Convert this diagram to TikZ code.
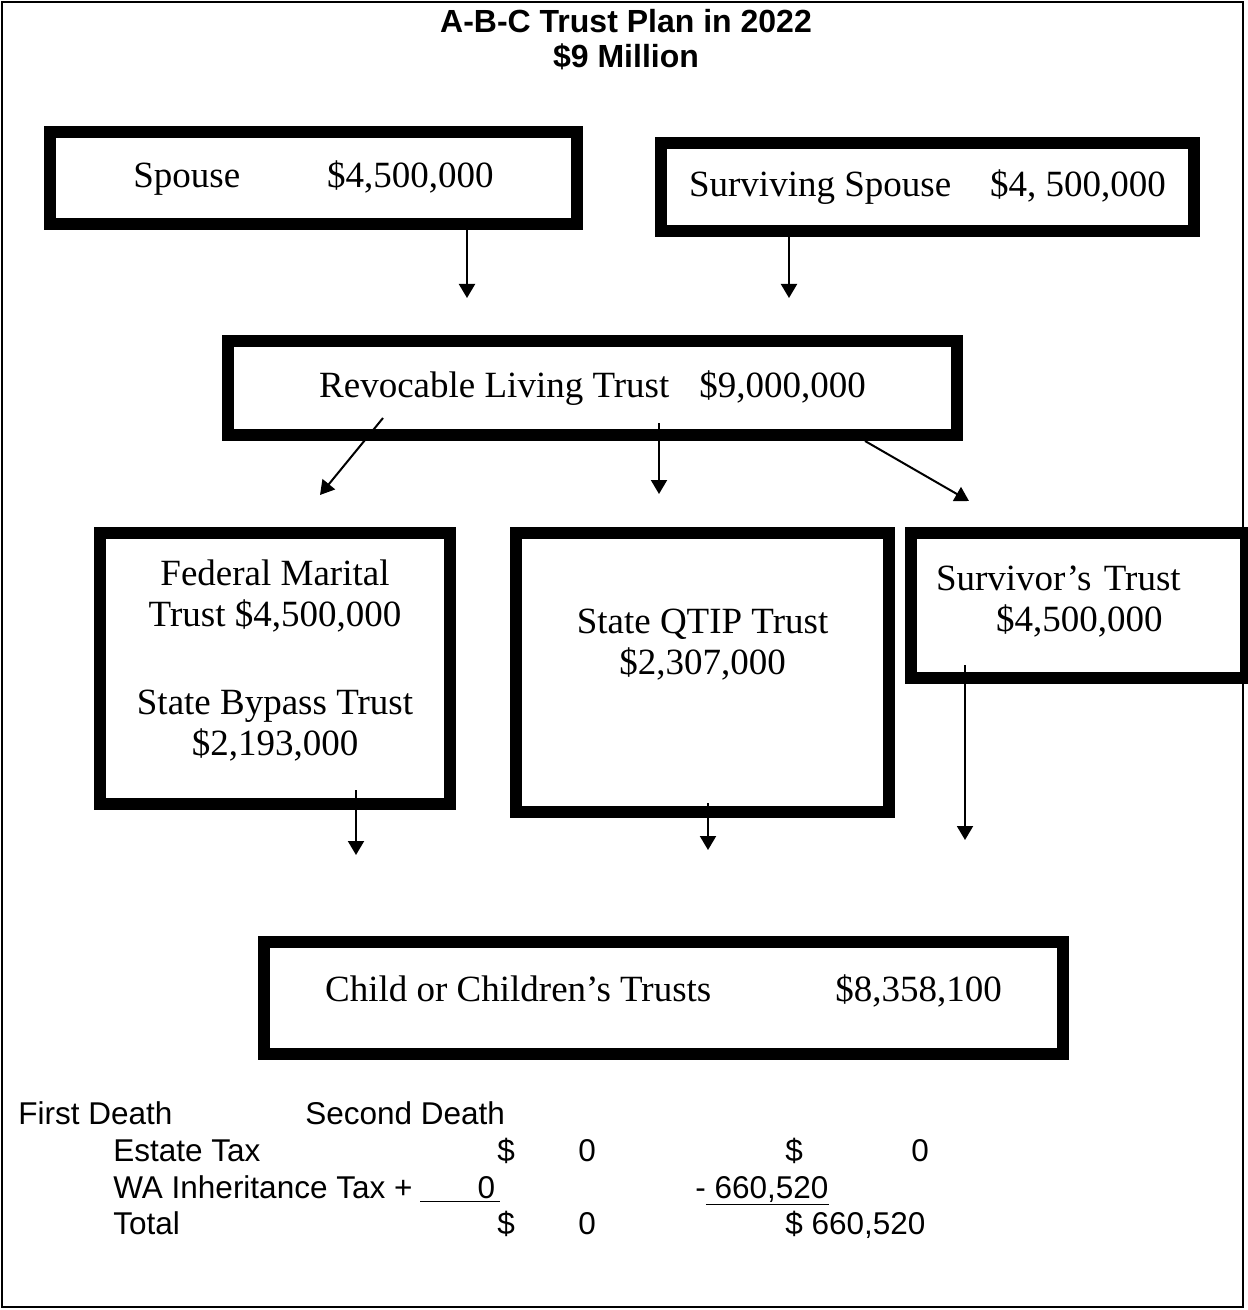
\documentclass[tikz,border=0pt]{standalone}
\usepackage{fontspec}
\setmainfont{Liberation Serif}
\setsansfont{Liberation Sans}
\usepackage{tikz}
\usetikzlibrary{arrows.meta,calc,positioning}

\begin{document}
\begin{tikzpicture}[
  x=0.5pt, y=-0.5pt,
  mybox/.style={
    draw,
    line width=6pt,
    inner sep=0pt,
    align=center,
    font=\fontsize{18.5}{20.5}\selectfont
    },
  myarrow/.style={
    line width=1pt,
    -{Triangle[length=7pt,width=8pt]}
    },
  mytab/.style={
    anchor=base west,
    inner sep=0pt,
    font=\sffamily\fontsize{15.75}{18}\selectfont
    }
]
\useasboundingbox (0,0) rectangle (1247,1310);
\draw[line width=1.25pt] (2,2) rectangle (1243,1307);

\node[font=\sffamily\bfseries\fontsize{16}{17.5}\selectfont, align=center,
  anchor=north, inner sep=0pt]
  (title) at (626,9)
  {A-B-C Trust Plan in 2022\\\$9 Million};

\node[mybox, minimum width=263.5pt, minimum height=46pt]
  (spouse) at (313.5,178)
  {Spouse\hspace{43.5pt}\$4,500,000};
\node[mybox, minimum width=266.5pt, minimum height=44pt]
  (survspouse) at (927.5,187)
  {Surviving Spouse\hspace{19.5pt}\$4, 500,000};
\node[mybox, minimum width=364.5pt, minimum height=47pt]
  (rlt) at (592.5,388)
  {Revocable Living Trust\hspace{15pt}\$9,000,000};

\node[mybox, minimum width=175pt, minimum height=135.5pt, text depth=11pt]
  (federal) at (275,668.5)
  {Federal Marital\\Trust \$4,500,000\\[23.5pt]State Bypass Trust\\\$2,193,000};
\node[mybox, minimum width=186.5pt, minimum height=139.5pt, text depth=31pt]
  (qtip) at (702.5,672.5)
  {State QTIP Trust\\\$2,307,000};
\node[mybox, minimum width=167.5pt, minimum height=72.5pt, align=left,
  text width=142.5pt, text depth=27pt]
  (survivor) at (1078.5,605.5)
  {Survivor’s Trust\\\hspace*{30pt}\$4,500,000};

\node[mybox, minimum width=399.5pt, minimum height=56pt, text depth=9.5pt]
  (child) at (663.5,998)
  {Child or Children’s Trusts\hspace{62pt}\$8,358,100};

\coordinate (a1) at (467,298);
\coordinate (a2) at (789,298);
\coordinate (a3) at (320,495);
\coordinate (a4) at (659,494);
\coordinate (a5) at (969,501);
\coordinate (a6) at (356,855);
\coordinate (a7) at (708,850);
\coordinate (a8) at (965,840);

\draw[myarrow] (spouse.south -| a1) -- (a1);
\draw[myarrow] (survspouse.south -| a2) -- (a2);
\draw[myarrow] ($(rlt.south)+(-209.5,-23)$) -- (a3);
\draw[myarrow] ($(rlt.south)+(66.5,-18)$) -- (a4);
\draw[myarrow] ($(rlt.south)+(272.5,0)$) -- (a5);
\draw[myarrow] ($(federal.south)+(81,-20)$) -- (a6);
\draw[myarrow] ($(qtip.south)+(5.5,-15)$) -- (a7);
\draw[myarrow] ($(survivor.south)+(-113.5,-19)$) -- (a8);

\node[mytab] (first) at (18,1124) {First Death};
\node[mytab] (second) at (305,1124) {Second Death};

\node[mytab] (estate) at (113,1161) {Estate Tax};
\node[mytab] (estate1) at (497,1161) {\$};
\node[mytab] (estate2) at (578,1161) {0};
\node[mytab] (estate3) at (785,1161) {\$};
\node[mytab] (estate4) at (911,1161) {0};

\node[mytab] (wa) at (113,1198) {WA Inheritance Tax +};
\node[mytab] (wa1) at (420,1198) {\underline{\makebox[40pt][r]{0\,}}};
\node[mytab] (wa2) at (695,1198) {-\underline{ 660,520}};

\node[mytab] (total) at (113,1234) {Total};
\node[mytab] (total1) at (497,1234) {\$};
\node[mytab] (total2) at (578,1234) {0};
\node[mytab] (total3) at (785,1234) {\$ 660,520};
\end{tikzpicture}
\end{document}
